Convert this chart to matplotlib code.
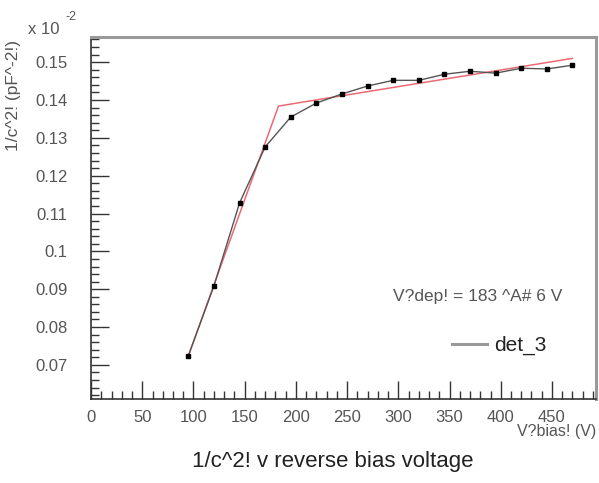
"""1/C^2 vs reverse bias voltage for det_3, with two-segment depletion fit."""

import matplotlib
matplotlib.use("Agg")
import matplotlib.pyplot as plt
from matplotlib.ticker import MultipleLocator, FuncFormatter

plt.rcParams["font.family"] = ["Liberation Sans", "DejaVu Sans"]

# measured points (y in units of 1e-2 pF^-2)
bias_v = [95, 120, 145, 170, 195, 220, 245, 270, 295, 320, 345, 370, 395, 420, 445, 470]
inv_c2 = [0.0724, 0.0909, 0.1128, 0.1276, 0.1355, 0.1392, 0.1416, 0.1437,
          0.1452, 0.1452, 0.1468, 0.1476, 0.1471, 0.1484, 0.1482, 0.1492]

# two-segment fit, kink at the depletion voltage
fit_x = [95, 183, 470]
fit_y = [0.0724, 0.1384, 0.1510]

TXT = "#555555"

fig = plt.figure(figsize=(5.99, 4.83), dpi=100)
ax = fig.add_axes([0.152, 0.174, 0.843, 0.749])

ax.plot(fit_x, fit_y, color="#e8505a", lw=1.1, alpha=0.85, zorder=2)
ax.plot(bias_v, inv_c2, color="#555555", lw=1.0, marker="s", ms=2.8,
        mfc="black", mec="black", zorder=3)

ax.set_xlim(0, 493)
ax.set_ylim(0.061, 0.1566)

ax.xaxis.set_major_locator(MultipleLocator(50))
ax.xaxis.set_minor_locator(MultipleLocator(10))
ax.yaxis.set_major_locator(MultipleLocator(0.01))
ax.yaxis.set_minor_locator(MultipleLocator(0.002))
ax.yaxis.set_major_formatter(FuncFormatter(lambda v, p: f"{v:g}"))

ax.tick_params(which="both", direction="in", top=False, right=False,
               colors="#333333", labelcolor=TXT, labelsize=12)
ax.tick_params(which="major", length=13, width=1.0)
ax.tick_params(which="minor", length=6, width=1.0)
ax.tick_params(axis="y", which="major", pad=17)
ax.tick_params(axis="x", which="major", pad=8)

for side in ("left", "bottom"):
    ax.spines[side].set_color("#333333")
    ax.spines[side].set_linewidth(1.2)
for side in ("top", "right"):
    ax.spines[side].set_color("#9a9a9a")
    ax.spines[side].set_linewidth(2.2)

# axis texts placed in figure fractions
fig.text(0.047, 0.938, "x 10", color=TXT, fontsize=12, ha="left", va="center")
fig.text(0.109, 0.965, "-2", color=TXT, fontsize=9, ha="left", va="center")
fig.text(0.022, 0.803, "1/c^2! (pF^-2!)", rotation=90, color=TXT,
         fontsize=12.5, ha="center", va="center")
fig.text(0.995, 0.106, "V?bias! (V)", color=TXT, fontsize=11.5, ha="right", va="center")
fig.text(0.556, 0.044, "1/c^2! v reverse bias voltage", color="#222222",
         fontsize=16, ha="center", va="center")

ax.text(0.598, 0.282, "V?dep! = 183 ^A# 6 V", transform=ax.transAxes,
        color=TXT, fontsize=12.5, ha="left", va="center")

ax.plot([352, 387], [0.0755, 0.0755], color="#999999", lw=2.2)
ax.text(394, 0.0752, "det_3", color="#222222", fontsize=15, ha="left", va="center")

fig.savefig("out.png", dpi=100)
